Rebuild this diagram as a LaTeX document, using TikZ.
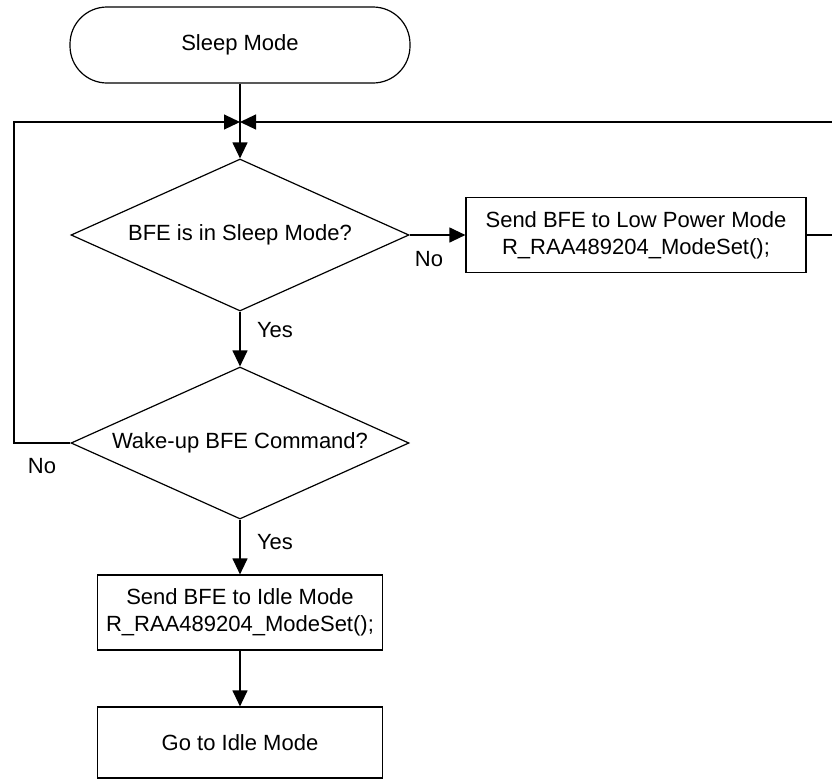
\documentclass[tikz,border=0pt]{standalone}
\usepackage{fontspec}
\setmainfont{Liberation Sans}
\usetikzlibrary{arrows.meta,shapes.geometric}
\begin{document}
\begin{tikzpicture}[x=1pt,y=-1pt,
  line width=1.2pt,
  every node/.style={font=\fontsize{22}{27}\selectfont},
  arr/.style={-{Triangle[length=16pt,width=15pt]}},
  term/.style={draw, rectangle, rounded corners=37pt, minimum width=340pt, minimum height=76pt, inner sep=0pt},
  dec/.style={draw, diamond, aspect=2.2, minimum width=338pt, minimum height=152pt, inner sep=0pt},
  proc/.style={draw, rectangle, align=center, inner sep=0pt},
  lbl/.style={inner sep=0pt}]
\useasboundingbox (0,0) rectangle (832,780);

\node[term] (start) at (240,45) {Sleep Mode};
\coordinate (j) at (240,122);
\node[dec] (d1) at (240,235) {BFE is in Sleep Mode?};
\node[proc, minimum width=340pt, minimum height=75pt] (p1) at (636,235) {Send BFE to Low Power Mode\\R\_RAA489204\_ModeSet();};
\node[dec] (d2) at (240,443) {Wake-up BFE Command?};
\node[proc, minimum width=285pt, minimum height=75pt] (p2) at (240,612.5) {Send BFE to Idle Mode\\R\_RAA489204\_ModeSet();};
\node[proc, minimum width=285pt, minimum height=71pt] (p3) at (240,742.5) {Go to Idle Mode};

\coordinate (r1) at (835,235);
\coordinate (r2) at (835,122);
\coordinate (l1) at (14,443);
\coordinate (l2) at (14,122);

\draw (start) -- (j);
\draw[arr] (j) -- (d1);
\draw[arr] (d1.east) -- (p1.west);
\draw[arr] (p1.east) -- (r1) -- (r2) -- (j);
\draw[arr] (d1) -- (d2);
\draw[arr] (d2.west) -- (l1) -- (l2) -- (j);
\draw[arr] (d2) -- (p2);
\draw[arr] (p2) -- (p3);

\node[lbl] (no1) at (429,259) {No};
\node[lbl] (no2) at (42,466) {No};
\node[lbl] (yes1) at (275,330) {Yes};
\node[lbl] (yes2) at (275,542) {Yes};
\end{tikzpicture}
\end{document}
